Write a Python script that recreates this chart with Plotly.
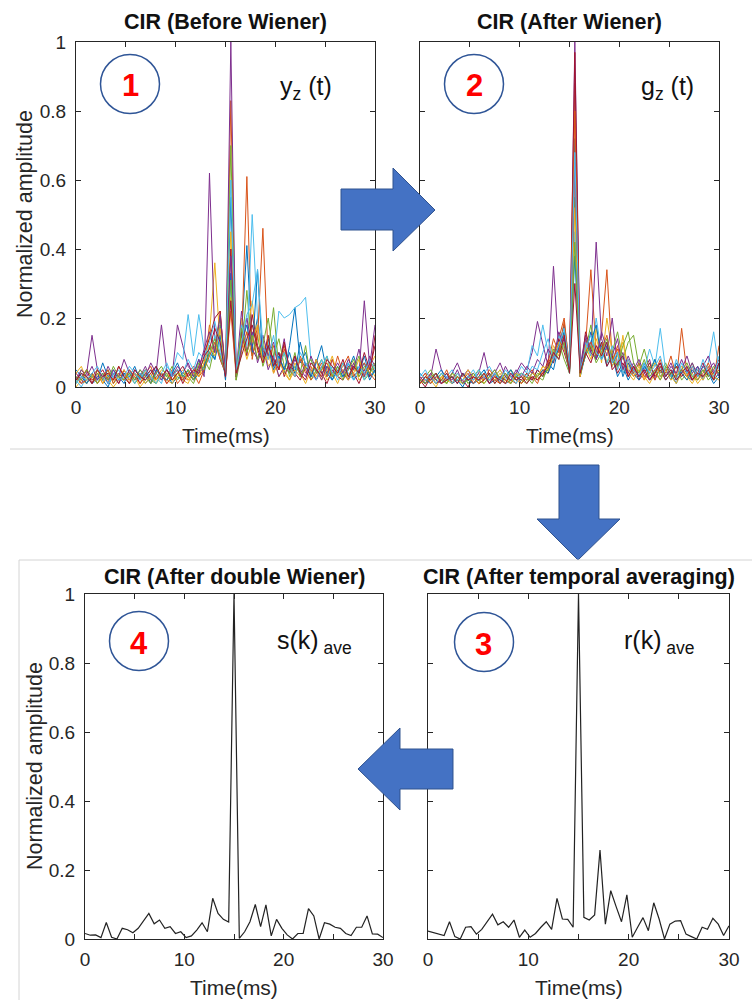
import numpy as np
import plotly.graph_objects as go

W, H = 752, 1000
FONT = "Liberation Sans, Arial, Helvetica, sans-serif"
AX = "#262626"

# Time grid shared by all four CIR panels (57 samples over 0-30 ms)
n_samples = 57
time_ms = np.linspace(0, 30, n_samples)

# MATLAB default line colour order
line_colors = ["#0072BD", "#D95319", "#EDB120", "#7E2F8E", "#77AC30", "#4DBEEE", "#A2142F"]

# ---- CIR before Wiener filtering, one list per received frame ----
before_01 = [0.02, 0.04, 0.01, 0.03, 0.05, 0.02, 0.00, 0.04, 0.03, 0.01,
             0.05, 0.02, 0.04, 0.01, 0.03, 0.06, 0.02, 0.04, 0.01, 0.03,
             0.02, 0.05, 0.03, 0.08, 0.04, 0.12, 0.08, 0.18, 0.03, 0.55,
             0.02, 0.15, 0.41, 0.12, 0.20, 0.09, 0.14, 0.06, 0.10, 0.04,
             0.12, 0.23, 0.07, 0.10, 0.03, 0.08, 0.04, 0.06, 0.02, 0.05,
             0.03, 0.07, 0.02, 0.04, 0.09, 0.03, 0.05]
before_02 = [0.01, 0.03, 0.05, 0.02, 0.04, 0.01, 0.03, 0.02, 0.06, 0.03,
             0.01, 0.04, 0.02, 0.05, 0.01, 0.03, 0.04, 0.02, 0.05, 0.01,
             0.03, 0.02, 0.04, 0.01, 0.05, 0.18, 0.10, 0.22, 0.02, 0.83,
             0.03, 0.12, 0.61, 0.08, 0.18, 0.10, 0.13, 0.04, 0.08, 0.12,
             0.05, 0.03, 0.08, 0.04, 0.06, 0.02, 0.05, 0.07, 0.03, 0.09,
             0.04, 0.02, 0.06, 0.03, 0.05, 0.08, 0.04]
before_03 = [0.00, 0.02, 0.01, 0.04, 0.01, 0.03, 0.02, 0.00, 0.02, 0.04,
             0.01, 0.03, 0.00, 0.02, 0.04, 0.01, 0.03, 0.02, 0.01, 0.04,
             0.02, 0.01, 0.05, 0.03, 0.07, 0.15, 0.36, 0.12, 0.04, 0.45,
             0.02, 0.20, 0.15, 0.25, 0.10, 0.14, 0.06, 0.08, 0.03, 0.05,
             0.02, 0.07, 0.04, 0.01, 0.05, 0.03, 0.06, 0.02, 0.04, 0.01,
             0.05, 0.03, 0.07, 0.02, 0.04, 0.06, 0.03]
before_04 = [0.03, 0.01, 0.04, 0.15, 0.05, 0.02, 0.06, 0.03, 0.01, 0.04,
             0.02, 0.05, 0.03, 0.06, 0.02, 0.04, 0.18, 0.05, 0.03, 0.18,
             0.12, 0.06, 0.04, 0.08, 0.03, 0.62, 0.14, 0.08, 0.04, 1.00,
             0.04, 0.22, 0.10, 0.16, 0.07, 0.12, 0.05, 0.09, 0.03, 0.06,
             0.04, 0.09, 0.03, 0.07, 0.05, 0.02, 0.06, 0.04, 0.08, 0.03,
             0.05, 0.02, 0.07, 0.04, 0.25, 0.06, 0.18]
before_05 = [0.01, 0.05, 0.03, 0.01, 0.04, 0.02, 0.05, 0.01, 0.03, 0.02,
             0.04, 0.01, 0.03, 0.05, 0.02, 0.01, 0.04, 0.03, 0.06, 0.02,
             0.04, 0.03, 0.01, 0.05, 0.08, 0.05, 0.12, 0.20, 0.03, 0.70,
             0.02, 0.10, 0.28, 0.09, 0.15, 0.06, 0.11, 0.23, 0.05, 0.10,
             0.03, 0.06, 0.04, 0.12, 0.02, 0.05, 0.08, 0.03, 0.06, 0.04,
             0.07, 0.03, 0.05, 0.09, 0.02, 0.04, 0.06]
before_06 = [0.02, 0.00, 0.03, 0.01, 0.02, 0.04, 0.01, 0.03, 0.05, 0.02,
             0.03, 0.01, 0.04, 0.02, 0.05, 0.03, 0.01, 0.06, 0.04, 0.10,
             0.08, 0.21, 0.09, 0.21, 0.11, 0.07, 0.15, 0.10, 0.03, 0.30,
             0.04, 0.18, 0.12, 0.50, 0.20, 0.09, 0.13, 0.07, 0.22, 0.20,
             0.21, 0.23, 0.24, 0.26, 0.08, 0.04, 0.08, 0.03, 0.06, 0.02,
             0.04, 0.07, 0.03, 0.05, 0.02, 0.06, 0.04]
before_07 = [0.04, 0.02, 0.05, 0.01, 0.03, 0.05, 0.02, 0.04, 0.01, 0.05,
             0.02, 0.04, 0.01, 0.03, 0.05, 0.02, 0.04, 0.01, 0.03, 0.05,
             0.01, 0.04, 0.02, 0.06, 0.10, 0.14, 0.20, 0.22, 0.03, 0.40,
             0.03, 0.16, 0.09, 0.21, 0.12, 0.08, 0.15, 0.06, 0.10, 0.03,
             0.07, 0.04, 0.02, 0.06, 0.03, 0.08, 0.04, 0.01, 0.05, 0.03,
             0.02, 0.06, 0.04, 0.01, 0.05, 0.03, 0.15]
before_08 = [0.05, 0.03, 0.01, 0.04, 0.02, 0.07, 0.03, 0.05, 0.02, 0.04,
             0.03, 0.06, 0.02, 0.04, 0.01, 0.05, 0.03, 0.02, 0.04, 0.07,
             0.03, 0.05, 0.02, 0.04, 0.06, 0.10, 0.08, 0.15, 0.02, 0.33,
             0.05, 0.13, 0.18, 0.10, 0.34, 0.07, 0.12, 0.05, 0.09, 0.05,
             0.10, 0.04, 0.13, 0.06, 0.03, 0.07, 0.12, 0.04, 0.02, 0.06,
             0.03, 0.05, 0.09, 0.04, 0.07, 0.02, 0.05]
before_09 = [0.03, 0.01, 0.02, 0.04, 0.01, 0.03, 0.05, 0.01, 0.04, 0.02,
             0.05, 0.03, 0.01, 0.04, 0.06, 0.02, 0.04, 0.01, 0.03, 0.05,
             0.02, 0.04, 0.06, 0.03, 0.05, 0.09, 0.13, 0.08, 0.04, 0.22,
             0.03, 0.11, 0.16, 0.09, 0.14, 0.46, 0.08, 0.12, 0.05, 0.11,
             0.06, 0.03, 0.09, 0.05, 0.02, 0.04, 0.07, 0.03, 0.08, 0.04,
             0.06, 0.09, 0.03, 0.05, 0.07, 0.04, 0.02]
before_10 = [0.04, 0.06, 0.02, 0.03, 0.05, 0.01, 0.04, 0.02, 0.03, 0.05,
             0.02, 0.04, 0.03, 0.01, 0.03, 0.02, 0.05, 0.04, 0.02, 0.03,
             0.05, 0.02, 0.04, 0.03, 0.07, 0.12, 0.09, 0.17, 0.04, 0.26,
             0.04, 0.14, 0.08, 0.13, 0.18, 0.07, 0.10, 0.04, 0.08, 0.04,
             0.02, 0.05, 0.03, 0.06, 0.04, 0.08, 0.02, 0.05, 0.09, 0.03,
             0.05, 0.02, 0.04, 0.08, 0.03, 0.06, 0.09]
before_11 = [0.02, 0.05, 0.03, 0.06, 0.02, 0.04, 0.01, 0.05, 0.03, 0.08,
             0.04, 0.02, 0.05, 0.03, 0.07, 0.04, 0.02, 0.05, 0.03, 0.06,
             0.04, 0.07, 0.03, 0.05, 0.11, 0.16, 0.10, 0.21, 0.05, 0.38,
             0.03, 0.12, 0.20, 0.11, 0.08, 0.15, 0.09, 0.13, 0.06, 0.14,
             0.04, 0.08, 0.05, 0.03, 0.09, 0.05, 0.02, 0.06, 0.04, 0.07,
             0.04, 0.08, 0.05, 0.11, 0.03, 0.09, 0.06]
before_12 = [0.03, 0.02, 0.05, 0.03, 0.01, 0.04, 0.02, 0.06, 0.03, 0.02,
             0.04, 0.02, 0.05, 0.03, 0.01, 0.04, 0.06, 0.03, 0.02, 0.04,
             0.03, 0.05, 0.02, 0.07, 0.05, 0.10, 0.14, 0.09, 0.04, 0.31,
             0.03, 0.17, 0.10, 0.15, 0.08, 0.12, 0.20, 0.09, 0.14, 0.06,
             0.04, 0.10, 0.03, 0.06, 0.08, 0.04, 0.05, 0.09, 0.03, 0.06,
             0.02, 0.05, 0.08, 0.03, 0.06, 0.04, 0.07]
before_13 = [0.01, 0.03, 0.02, 0.04, 0.06, 0.03, 0.01, 0.04, 0.02, 0.03,
             0.06, 0.04, 0.02, 0.05, 0.03, 0.01, 0.04, 0.07, 0.03, 0.05,
             0.04, 0.08, 0.05, 0.10, 0.08, 0.13, 0.19, 0.12, 0.04, 0.60,
             0.05, 0.13, 0.21, 0.24, 0.34, 0.12, 0.08, 0.15, 0.06, 0.10,
             0.06, 0.03, 0.10, 0.07, 0.04, 0.02, 0.06, 0.09, 0.04, 0.03,
             0.07, 0.04, 0.02, 0.06, 0.04, 0.08, 0.05]
before_14 = [0.02, 0.04, 0.03, 0.01, 0.05, 0.03, 0.04, 0.02, 0.06, 0.03,
             0.01, 0.05, 0.03, 0.02, 0.04, 0.06, 0.03, 0.05, 0.02, 0.04,
             0.06, 0.03, 0.05, 0.04, 0.09, 0.11, 0.17, 0.13, 0.03, 0.25,
             0.04, 0.09, 0.14, 0.18, 0.11, 0.07, 0.12, 0.08, 0.05, 0.13,
             0.05, 0.09, 0.04, 0.02, 0.07, 0.05, 0.03, 0.08, 0.06, 0.04,
             0.08, 0.03, 0.06, 0.04, 0.10, 0.05, 0.12]

# ---- CIR after Wiener filtering ----
after_01 = [0.02, 0.01, 0.03, 0.01, 0.02, 0.04, 0.01, 0.02, 0.00, 0.03,
            0.01, 0.02, 0.04, 0.01, 0.02, 0.03, 0.01, 0.02, 0.04, 0.01,
            0.03, 0.02, 0.05, 0.03, 0.07, 0.05, 0.12, 0.18, 0.04, 0.72,
            0.03, 0.10, 0.16, 0.08, 0.12, 0.06, 0.09, 0.03, 0.06, 0.02,
            0.05, 0.03, 0.07, 0.02, 0.04, 0.06, 0.02, 0.04, 0.01, 0.05,
            0.03, 0.02, 0.06, 0.03, 0.04, 0.01, 0.03]
after_02 = [0.01, 0.03, 0.02, 0.04, 0.01, 0.02, 0.03, 0.01, 0.04, 0.02,
            0.03, 0.01, 0.02, 0.04, 0.02, 0.01, 0.03, 0.02, 0.01, 0.04,
            0.02, 0.03, 0.01, 0.05, 0.04, 0.10, 0.14, 0.20, 0.05, 0.88,
            0.04, 0.12, 0.34, 0.10, 0.15, 0.34, 0.08, 0.11, 0.04, 0.07,
            0.03, 0.05, 0.02, 0.06, 0.04, 0.08, 0.03, 0.05, 0.02, 0.17,
            0.04, 0.02, 0.05, 0.03, 0.06, 0.02, 0.12]
after_03 = [0.03, 0.01, 0.02, 0.00, 0.03, 0.01, 0.04, 0.02, 0.01, 0.03,
            0.02, 0.04, 0.01, 0.03, 0.02, 0.04, 0.01, 0.03, 0.02, 0.01,
            0.04, 0.02, 0.03, 0.06, 0.05, 0.12, 0.09, 0.16, 0.06, 0.60,
            0.04, 0.14, 0.09, 0.17, 0.07, 0.20, 0.10, 0.05, 0.15, 0.04,
            0.02, 0.05, 0.03, 0.01, 0.04, 0.02, 0.05, 0.03, 0.01, 0.04,
            0.02, 0.04, 0.01, 0.03, 0.05, 0.02, 0.04]
after_04 = [0.02, 0.04, 0.03, 0.11, 0.05, 0.02, 0.04, 0.07, 0.03, 0.05,
            0.02, 0.04, 0.10, 0.03, 0.05, 0.02, 0.06, 0.03, 0.04, 0.07,
            0.05, 0.10, 0.19, 0.12, 0.06, 0.35, 0.10, 0.14, 0.05, 1.00,
            0.06, 0.15, 0.10, 0.42, 0.14, 0.09, 0.20, 0.06, 0.10, 0.04,
            0.07, 0.03, 0.05, 0.08, 0.02, 0.06, 0.04, 0.07, 0.03, 0.05,
            0.09, 0.04, 0.06, 0.02, 0.05, 0.07, 0.03]
after_05 = [0.01, 0.03, 0.05, 0.02, 0.04, 0.01, 0.03, 0.02, 0.04, 0.01,
            0.03, 0.05, 0.02, 0.04, 0.01, 0.03, 0.02, 0.05, 0.03, 0.02,
            0.01, 0.04, 0.03, 0.02, 0.06, 0.09, 0.13, 0.08, 0.04, 0.55,
            0.03, 0.11, 0.18, 0.09, 0.13, 0.07, 0.10, 0.16, 0.08, 0.13,
            0.15, 0.06, 0.11, 0.05, 0.08, 0.04, 0.07, 0.03, 0.06, 0.02,
            0.04, 0.07, 0.03, 0.05, 0.02, 0.04, 0.06]
after_06 = [0.03, 0.05, 0.02, 0.04, 0.01, 0.03, 0.05, 0.02, 0.04, 0.03,
            0.05, 0.02, 0.04, 0.06, 0.03, 0.05, 0.02, 0.04, 0.03, 0.06,
            0.04, 0.12, 0.09, 0.18, 0.10, 0.07, 0.15, 0.11, 0.04, 0.45,
            0.05, 0.13, 0.09, 0.20, 0.10, 0.07, 0.12, 0.05, 0.09, 0.06,
            0.04, 0.07, 0.05, 0.11, 0.06, 0.17, 0.05, 0.03, 0.08, 0.04,
            0.06, 0.03, 0.05, 0.02, 0.07, 0.16, 0.05]
after_07 = [0.02, 0.00, 0.03, 0.01, 0.02, 0.04, 0.01, 0.03, 0.02, 0.00,
            0.03, 0.01, 0.02, 0.04, 0.01, 0.03, 0.02, 0.01, 0.03, 0.02,
            0.04, 0.02, 0.05, 0.03, 0.08, 0.07, 0.14, 0.10, 0.05, 0.97,
            0.03, 0.16, 0.11, 0.08, 0.13, 0.06, 0.09, 0.04, 0.07, 0.03,
            0.06, 0.02, 0.04, 0.07, 0.03, 0.05, 0.02, 0.04, 0.06, 0.03,
            0.05, 0.02, 0.04, 0.07, 0.03, 0.05, 0.08]
after_08 = [0.04, 0.02, 0.01, 0.03, 0.05, 0.02, 0.03, 0.01, 0.04, 0.02,
            0.01, 0.03, 0.05, 0.02, 0.04, 0.01, 0.03, 0.05, 0.02, 0.03,
            0.02, 0.04, 0.03, 0.05, 0.04, 0.08, 0.11, 0.16, 0.05, 0.38,
            0.04, 0.09, 0.13, 0.18, 0.08, 0.12, 0.06, 0.10, 0.03, 0.07,
            0.04, 0.02, 0.06, 0.04, 0.08, 0.03, 0.05, 0.02, 0.07, 0.04,
            0.02, 0.05, 0.03, 0.06, 0.04, 0.02, 0.04]
after_09 = [0.02, 0.04, 0.01, 0.03, 0.02, 0.05, 0.01, 0.03, 0.02, 0.04,
            0.01, 0.03, 0.02, 0.05, 0.03, 0.01, 0.04, 0.02, 0.03, 0.01,
            0.03, 0.05, 0.02, 0.04, 0.07, 0.14, 0.10, 0.19, 0.06, 0.80,
            0.04, 0.10, 0.13, 0.09, 0.11, 0.15, 0.07, 0.12, 0.05, 0.08,
            0.04, 0.07, 0.03, 0.05, 0.02, 0.06, 0.04, 0.09, 0.03, 0.05,
            0.03, 0.06, 0.02, 0.04, 0.07, 0.03, 0.05]
after_10 = [0.01, 0.02, 0.04, 0.01, 0.03, 0.02, 0.01, 0.04, 0.02, 0.05,
            0.03, 0.01, 0.04, 0.02, 0.03, 0.05, 0.02, 0.01, 0.04, 0.03,
            0.02, 0.04, 0.03, 0.06, 0.05, 0.09, 0.13, 0.11, 0.05, 0.52,
            0.03, 0.12, 0.08, 0.14, 0.09, 0.11, 0.06, 0.09, 0.13, 0.05,
            0.03, 0.06, 0.02, 0.04, 0.07, 0.03, 0.05, 0.02, 0.04, 0.06,
            0.03, 0.01, 0.04, 0.02, 0.05, 0.03, 0.02]
after_11 = [0.03, 0.01, 0.04, 0.02, 0.01, 0.03, 0.02, 0.05, 0.01, 0.03,
            0.04, 0.02, 0.03, 0.01, 0.04, 0.07, 0.03, 0.02, 0.05, 0.03,
            0.06, 0.04, 0.08, 0.06, 0.11, 0.08, 0.16, 0.12, 0.05, 0.65,
            0.05, 0.14, 0.10, 0.08, 0.16, 0.11, 0.09, 0.14, 0.05, 0.09,
            0.05, 0.08, 0.04, 0.02, 0.05, 0.07, 0.03, 0.06, 0.04, 0.08,
            0.04, 0.07, 0.03, 0.06, 0.09, 0.04, 0.07]
after_12 = [0.02, 0.01, 0.03, 0.04, 0.02, 0.01, 0.04, 0.03, 0.01, 0.02,
            0.04, 0.02, 0.01, 0.03, 0.05, 0.02, 0.04, 0.01, 0.03, 0.04,
            0.03, 0.01, 0.04, 0.03, 0.05, 0.11, 0.08, 0.13, 0.04, 0.42,
            0.04, 0.09, 0.12, 0.07, 0.10, 0.14, 0.08, 0.06, 0.12, 0.16,
            0.07, 0.04, 0.08, 0.03, 0.05, 0.02, 0.06, 0.04, 0.03, 0.05,
            0.07, 0.03, 0.02, 0.05, 0.03, 0.06, 0.04]
after_13 = [0.04, 0.02, 0.03, 0.01, 0.04, 0.03, 0.01, 0.04, 0.02, 0.03,
            0.02, 0.05, 0.03, 0.02, 0.04, 0.02, 0.05, 0.03, 0.01, 0.04,
            0.03, 0.06, 0.05, 0.10, 0.14, 0.08, 0.12, 0.17, 0.06, 0.68,
            0.05, 0.11, 0.15, 0.10, 0.08, 0.13, 0.07, 0.10, 0.04, 0.08,
            0.05, 0.03, 0.07, 0.04, 0.06, 0.09, 0.03, 0.05, 0.02, 0.07,
            0.04, 0.06, 0.03, 0.08, 0.04, 0.03, 0.09]
after_14 = [0.01, 0.03, 0.02, 0.04, 0.01, 0.02, 0.03, 0.01, 0.04, 0.02,
            0.03, 0.02, 0.04, 0.01, 0.03, 0.02, 0.01, 0.04, 0.02, 0.03,
            0.01, 0.03, 0.02, 0.04, 0.06, 0.10, 0.08, 0.15, 0.04, 0.30,
            0.04, 0.10, 0.07, 0.12, 0.09, 0.13, 0.05, 0.07, 0.09, 0.03,
            0.06, 0.03, 0.05, 0.02, 0.04, 0.07, 0.03, 0.05, 0.02, 0.04,
            0.06, 0.02, 0.04, 0.03, 0.05, 0.02, 0.07]

# ---- CIR after temporal averaging r(k)_ave ----
temporal_avg = [0.023, 0.019, 0.014, 0.010, 0.050, 0.007, 0.000, 0.034, 0.036, 0.014,
                0.028, 0.050, 0.072, 0.041, 0.050, 0.034, 0.055, 0.005, 0.026, 0.005,
                0.016, 0.034, 0.050, 0.028, 0.118, 0.058, 0.057, 0.034, 1.000, 0.063,
                0.055, 0.070, 0.258, 0.043, 0.140, 0.094, 0.050, 0.128, 0.005, 0.034,
                0.062, 0.024, 0.105, 0.058, 0.000, 0.043, 0.052, 0.053, 0.014, 0.007,
                0.000, 0.034, 0.028, 0.060, 0.043, 0.010, 0.038]

# ---- CIR after double Wiener s(k)_ave ----
double_wiener = [0.016, 0.011, 0.012, 0.004, 0.048, 0.005, 0.000, 0.031, 0.027, 0.018,
                 0.031, 0.052, 0.074, 0.044, 0.055, 0.031, 0.036, 0.016, 0.021, 0.004,
                 0.009, 0.026, 0.047, 0.021, 0.118, 0.074, 0.057, 0.049, 1.000, 0.002,
                 0.021, 0.050, 0.100, 0.036, 0.099, 0.009, 0.057, 0.031, 0.012, 0.000,
                 0.016, 0.016, 0.088, 0.067, 0.000, 0.047, 0.043, 0.034, 0.031, 0.016,
                 0.010, 0.034, 0.034, 0.067, 0.015, 0.014, 0.004]

before_traces = [before_01, before_02, before_03, before_04, before_05, before_06, before_07,
                 before_08, before_09, before_10, before_11, before_12, before_13, before_14]
after_traces = [after_01, after_02, after_03, after_04, after_05, after_06, after_07,
                after_08, after_09, after_10, after_11, after_12, after_13, after_14]

x_ticks = [0, 10, 20, 30]
x_tick_text = ["0", "10", "20", "30"]
y_ticks = [0, 0.2, 0.4, 0.6, 0.8, 1.0]
y_tick_text = ["0", "0.2", "0.4", "0.6", "0.8", "1"]


def fx(px):
    return px / W


def fy(py):
    return 1 - py / H


# panel boxes in pixels: left, right, top, bottom
boxes = {
    1: (76, 375, 42, 387),
    2: (420, 719, 42, 387),
    3: (85, 383, 594, 939),
    4: (428, 729, 594, 939),
}

fig = go.Figure()

for tr, vals in enumerate(before_traces):
    fig.add_trace(go.Scatter(x=time_ms, y=vals, mode="lines", xaxis="x", yaxis="y",
                             line=dict(color=line_colors[tr % 7], width=1), hoverinfo="skip"))
for tr, vals in enumerate(after_traces):
    fig.add_trace(go.Scatter(x=time_ms, y=vals, mode="lines", xaxis="x2", yaxis="y2",
                             line=dict(color=line_colors[tr % 7], width=1), hoverinfo="skip"))
fig.add_trace(go.Scatter(x=time_ms, y=double_wiener, mode="lines", xaxis="x3", yaxis="y3",
                         line=dict(color="#222222", width=1.2), hoverinfo="skip"))
fig.add_trace(go.Scatter(x=time_ms, y=temporal_avg, mode="lines", xaxis="x4", yaxis="y4",
                         line=dict(color="#222222", width=1.2), hoverinfo="skip"))


def axis_style():
    return dict(showline=True, mirror="ticks", linecolor=AX, linewidth=1,
                ticks="inside", ticklen=5, tickwidth=1, tickcolor=AX,
                showgrid=False, zeroline=False, fixedrange=True, automargin=False,
                tickfont=dict(family=FONT, size=19, color=AX))


layout = dict(width=W, height=H, margin=dict(l=0, r=0, t=0, b=0, pad=0, autoexpand=False),
              autosize=False, template="none",
              paper_bgcolor="white", plot_bgcolor="white", showlegend=False)

for i, (l, r, t, b) in boxes.items():
    sx = "" if i == 1 else str(i)
    xa = axis_style()
    xa.update(domain=[fx(l), fx(r)], range=[0, 30], tickvals=x_ticks, ticktext=x_tick_text,
              anchor="y" + sx, ticklabelstandoff=3,
              minor=dict(dtick=5, tick0=0, ticks="inside", ticklen=5, tickcolor=AX, showgrid=False))
    ya = axis_style()
    ya.update(domain=[fy(b), fy(t)], range=[0, 1], tickvals=y_ticks, ticktext=y_tick_text,
              anchor="x" + sx, showticklabels=(i in (1, 3)), ticklabelstandoff=5)
    layout["xaxis" + sx] = xa
    layout["yaxis" + sx] = ya

fig.update_layout(**layout)

annotations = []


def text_at(px, py, txt, size, color="#111111", bold=False, xanchor="center", angle=0):
    annotations.append(dict(
        x=fx(px), y=fy(py), xref="paper", yref="paper", text=f"<b>{txt}</b>" if bold else txt,
        showarrow=False, xanchor=xanchor, yanchor="middle", textangle=angle,
        font=dict(family=FONT, size=size, color=color)))


titles = {1: "CIR (Before Wiener)", 2: "CIR (After Wiener)",
          3: "CIR (After double Wiener)", 4: "CIR (After temporal averaging)"}
for i, (l, r, t, b) in boxes.items():
    cx = (l + r) / 2
    text_at(cx, t - (20 if i in (1, 2) else 17), titles[i], 21.5, color="#111111", bold=True)
    text_at(cx, b + 48, "Time(ms)", 21, color=AX)
text_at(25, 214, "Normalized amplitude", 21.5, color=AX, angle=-90)
text_at(35, 766, "Normalized amplitude", 21.5, color=AX, angle=-90)

# numbered step badges
badges = [(130, 84, "1"), (474, 84, "2"), (139, 641, "4"), (484, 642, "3")]
shapes = []
for cx, cy, num in badges:
    rr = 29.5
    shapes.append(dict(type="circle", xref="paper", yref="paper",
                       x0=fx(cx - rr), x1=fx(cx + rr), y0=fy(cy + rr), y1=fy(cy - rr),
                       line=dict(color="#2F5597", width=1.5), layer="above"))
    text_at(cx, cy + 2, num, 31, color="#FF0000", bold=True)

# signal names
text_at(278, 88, "y<sub>z</sub> (t)", 25, xanchor="left")
text_at(639, 88, "g<sub>z</sub> (t)", 25, xanchor="left")
text_at(275, 642, "s(k)<sub> ave</sub>", 25, xanchor="left")
text_at(622, 642, "r(k)<sub> ave</sub>", 25, xanchor="left")


def poly(points):
    return "M " + " L ".join(f"{fx(px):.5f},{fy(py):.5f}" for px, py in points) + " Z"


arrows = [
    [(341, 189), (393, 189), (393, 168), (435, 210), (393, 251), (393, 230), (341, 230)],
    [(559, 465), (599, 465), (599, 519), (620, 519), (578, 560), (537, 519), (559, 519)],
    [(453, 749), (400, 749), (400, 728), (358, 769), (400, 810), (400, 789), (453, 789)],
]
for pts in arrows:
    shapes.append(dict(type="path", xref="paper", yref="paper", path=poly(pts),
                       fillcolor="#4472C4", line=dict(color="#2F528F", width=1), layer="above"))

# thin frame lines separating the two rows
frame = "#d4d4d4"
shapes.append(dict(type="line", xref="paper", yref="paper", x0=fx(10), x1=1, y0=fy(449), y1=fy(449),
                   line=dict(color=frame, width=1)))
shapes.append(dict(type="line", xref="paper", yref="paper", x0=fx(19), x1=1, y0=fy(560), y1=fy(560),
                   line=dict(color=frame, width=1)))
shapes.append(dict(type="line", xref="paper", yref="paper", x0=fx(19), x1=fx(19), y0=fy(560), y1=0,
                   line=dict(color=frame, width=1)))

fig.update_layout(annotations=annotations, shapes=shapes)
fig.write_html("out.html")
